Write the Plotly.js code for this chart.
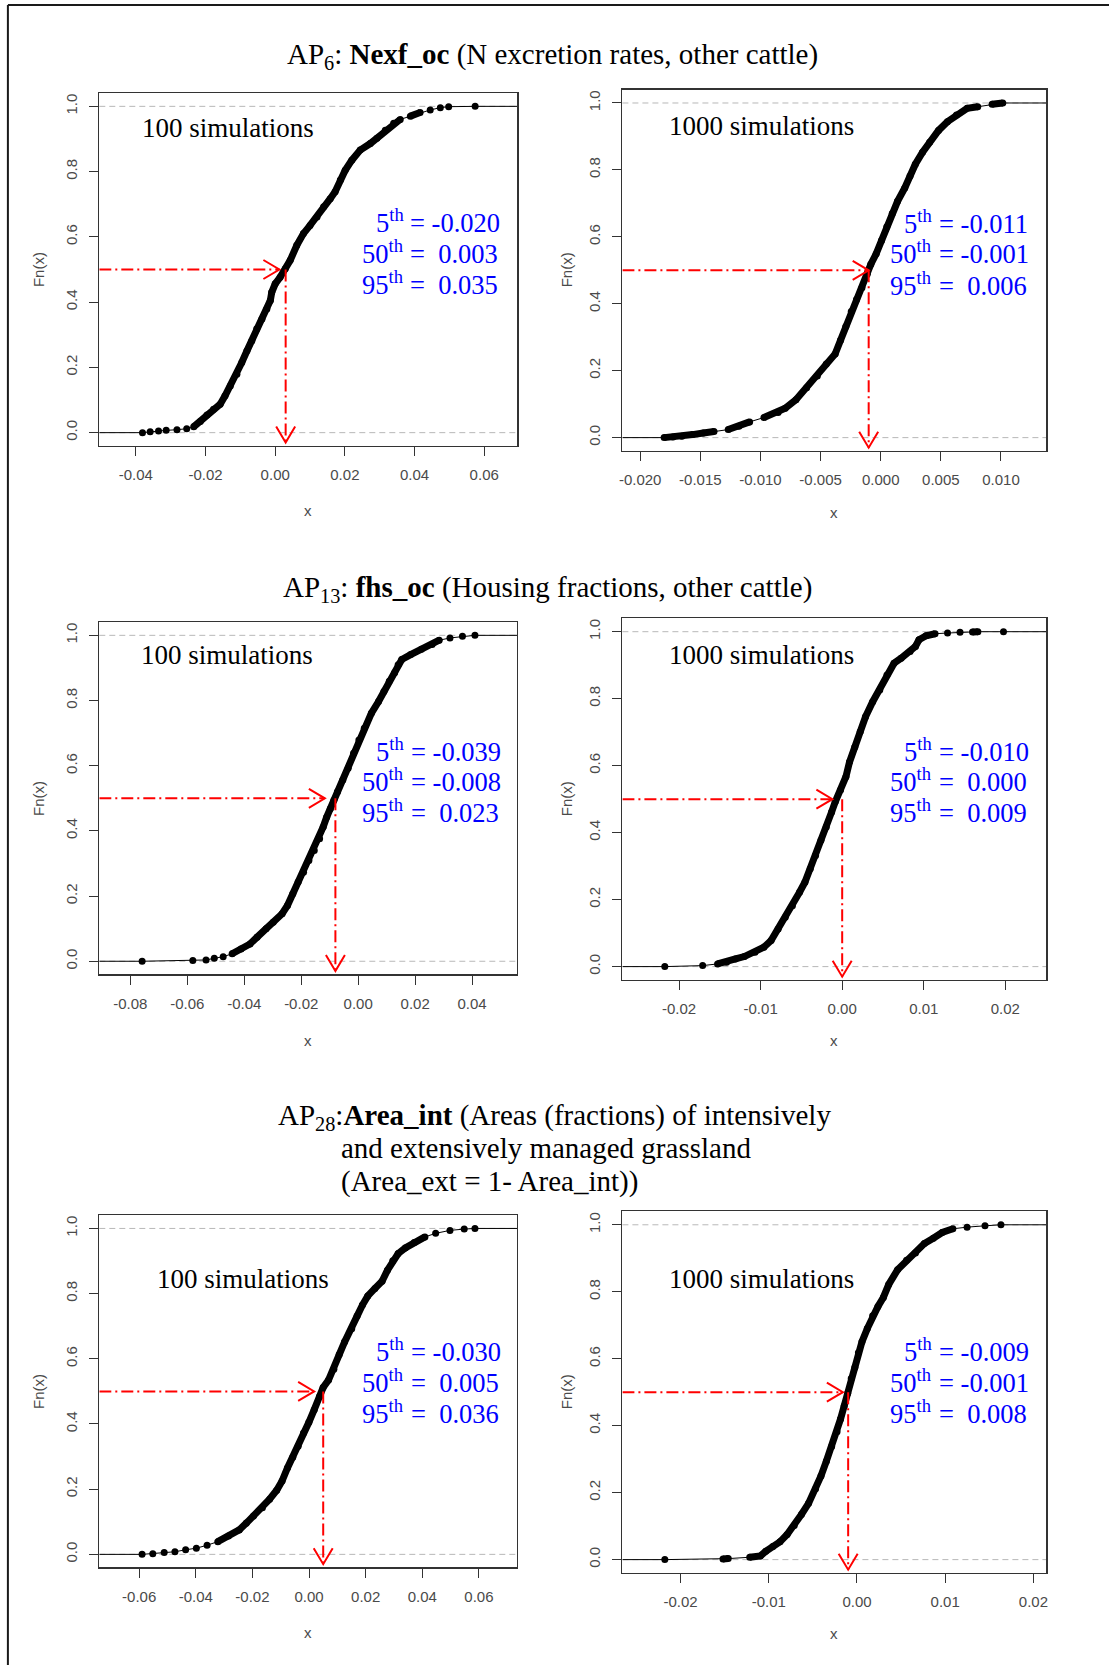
<!DOCTYPE html>
<html><head><meta charset="utf-8">
<script src="https://cdn.plot.ly/plotly-3.0.1.min.js"></script>
<style>html,body{margin:0;padding:0;background:#fff}</style>
</head><body><div id="chart" style="width:1109px;height:1665px"></div>
<script>
// ---------- data ----------
const groupTitles = [
  ["AP<sub>6</sub>: <b>Nexf_oc</b> (N excretion rates, other cattle)"],
  ["AP<sub>13</sub>: <b>fhs_oc</b> (Housing fractions, other cattle)"],
  ["AP<sub>28</sub>:<b>Area_int</b> (Areas (fractions) of intensively", "and extensively managed grassland", "(Area_ext = 1- Area_int))"]
];
const simCounts = [100, 1000, 100, 1000, 100, 1000];
const simLabels = ["100 simulations","1000 simulations","100 simulations","1000 simulations","100 simulations","1000 simulations"];
const pct5  = [-0.020, -0.011, -0.039, -0.010, -0.030, -0.009];
const pct50 = [ 0.003, -0.001, -0.008,  0.000,  0.005, -0.001];
const pct95 = [ 0.035,  0.006,  0.023,  0.009,  0.036,  0.008];
const arrowTipX = [0.0012, -0.0010, -0.0117, -0.0012, 0.0018, -0.0016];

const p1_x = [-0.0381,-0.0359,-0.0335,-0.0313,-0.0282,-0.0254,-0.0234,-0.0215,-0.0196,-0.0177,-0.0158,-0.0144,-0.0129,-0.0110,-0.0096,-0.0081,-0.0067,-0.0053,-0.0038,-0.0024,-0.0014,-0.0010,0.0000,0.0014,0.0029,0.0043,0.0062,0.0081,0.0100,0.0120,0.0139,0.0158,0.0172,0.0187,0.0201,0.0220,0.0244,0.0273,0.0292,0.0316,0.0340,0.0359,0.0388,0.0416,0.0445,0.0474,0.0498,0.0574];
const p1_F = [0.000,0.003,0.005,0.007,0.009,0.012,0.018,0.034,0.054,0.072,0.087,0.113,0.143,0.179,0.215,0.251,0.282,0.318,0.348,0.379,0.405,0.430,0.456,0.476,0.502,0.528,0.574,0.610,0.635,0.661,0.692,0.717,0.738,0.774,0.804,0.835,0.866,0.886,0.902,0.927,0.948,0.960,0.970,0.981,0.989,0.996,0.999,1.000];

const p2_x = [-0.01801,-0.01727,-0.01653,-0.01564,-0.01475,-0.01386,-0.01268,-0.01179,-0.01090,-0.00971,-0.00853,-0.00794,-0.00705,-0.00616,-0.00527,-0.00453,-0.00379,-0.00334,-0.00290,-0.00245,-0.00201,-0.00156,-0.00112,-0.00082,-0.00038,0.00007,0.00051,0.00096,0.00140,0.00200,0.00244,0.00288,0.00348,0.00407,0.00481,0.00555,0.00630,0.00719,0.00807,0.00926,0.01015];
const p2_F = [0.000,0.002,0.004,0.009,0.014,0.018,0.024,0.034,0.047,0.060,0.075,0.088,0.113,0.149,0.184,0.220,0.250,0.291,0.332,0.377,0.413,0.448,0.488,0.518,0.549,0.589,0.630,0.670,0.706,0.746,0.782,0.817,0.853,0.883,0.918,0.944,0.964,0.984,0.989,0.996,1.000];

const p3_x = [-0.07586,-0.05806,-0.05342,-0.05053,-0.04740,-0.04426,-0.04113,-0.03799,-0.03549,-0.03235,-0.02984,-0.02671,-0.02483,-0.02295,-0.02107,-0.01918,-0.01730,-0.01542,-0.01354,-0.01229,-0.01103,-0.00978,-0.00853,-0.00727,-0.00539,-0.00351,-0.00163,0.00025,0.00213,0.00464,0.00715,0.00903,0.01091,0.01279,0.01404,0.01530,0.01843,0.02219,0.02596,0.02846,0.03223,0.03661,0.04100];
const p3_F = [0.000,0.002,0.004,0.009,0.014,0.023,0.038,0.053,0.074,0.100,0.120,0.146,0.171,0.207,0.243,0.273,0.309,0.340,0.376,0.412,0.443,0.468,0.494,0.520,0.556,0.592,0.638,0.679,0.715,0.761,0.797,0.828,0.859,0.885,0.910,0.926,0.941,0.957,0.972,0.985,0.992,0.997,1.000];

const p4_x = [-0.02175,-0.01711,-0.01528,-0.01418,-0.01309,-0.01200,-0.01069,-0.00960,-0.00872,-0.00785,-0.00698,-0.00610,-0.00523,-0.00457,-0.00391,-0.00326,-0.00260,-0.00195,-0.00129,-0.00085,-0.00020,0.00046,0.00090,0.00155,0.00221,0.00286,0.00374,0.00461,0.00549,0.00636,0.00723,0.00833,0.00898,0.00942,0.01029,0.01139,0.01292,0.01445,0.01598,0.01664,0.01978];
const p4_F = [0.000,0.003,0.008,0.013,0.023,0.030,0.043,0.058,0.078,0.112,0.147,0.182,0.222,0.252,0.292,0.332,0.377,0.417,0.462,0.492,0.527,0.567,0.611,0.656,0.701,0.746,0.791,0.826,0.871,0.906,0.921,0.941,0.956,0.976,0.988,0.994,0.996,0.998,0.999,1.000,1.000];

const p5_x = [-0.05899,-0.05520,-0.05117,-0.04738,-0.04360,-0.03981,-0.03602,-0.03224,-0.02845,-0.02467,-0.02214,-0.01962,-0.01647,-0.01394,-0.01142,-0.00953,-0.00763,-0.00574,-0.00385,-0.00196,-0.00006,0.00183,0.00372,0.00498,0.00688,0.00877,0.01066,0.01256,0.01508,0.01697,0.01886,0.02076,0.02328,0.02580,0.02770,0.02959,0.03148,0.03400,0.03716,0.04094,0.04473,0.04978,0.05482,0.05861];
const p5_F = [0.000,0.002,0.006,0.008,0.014,0.019,0.028,0.039,0.056,0.075,0.096,0.118,0.143,0.169,0.197,0.225,0.265,0.298,0.332,0.372,0.405,0.444,0.484,0.512,0.535,0.568,0.613,0.652,0.692,0.731,0.765,0.793,0.816,0.838,0.872,0.901,0.923,0.940,0.957,0.974,0.985,0.994,0.998,1.000];

const p6_x = [-0.02178,-0.01519,-0.01459,-0.01216,-0.01095,-0.01034,-0.00954,-0.00873,-0.00792,-0.00711,-0.00630,-0.00549,-0.00469,-0.00408,-0.00347,-0.00287,-0.00226,-0.00186,-0.00145,-0.00105,-0.00065,-0.00024,0.00016,0.00057,0.00117,0.00178,0.00238,0.00299,0.00360,0.00461,0.00562,0.00663,0.00764,0.00865,0.00966,0.01087,0.01248,0.01451,0.01632];
const p6_F = [0.000,0.002,0.003,0.007,0.011,0.025,0.039,0.053,0.075,0.102,0.135,0.168,0.212,0.250,0.294,0.338,0.382,0.420,0.459,0.497,0.541,0.574,0.618,0.651,0.690,0.728,0.756,0.783,0.822,0.866,0.894,0.916,0.944,0.960,0.977,0.988,0.993,0.997,1.000];

const xTickVals = [
  [-0.04,-0.02,0,0.02,0.04,0.06],
  [-0.020,-0.015,-0.010,-0.005,0,0.005,0.010],
  [-0.08,-0.06,-0.04,-0.02,0,0.02,0.04],
  [-0.02,-0.01,0,0.01,0.02],
  [-0.06,-0.04,-0.02,0,0.02,0.04,0.06],
  [-0.02,-0.01,0,0.01,0.02]
];
const xTickText = [
  ["-0.04","-0.02","0.00","0.02","0.04","0.06"],
  ["-0.020","-0.015","-0.010","-0.005","0.000","0.005","0.010"],
  ["-0.08","-0.06","-0.04","-0.02","0.00","0.02","0.04"],
  ["-0.02","-0.01","0.00","0.01","0.02"],
  ["-0.06","-0.04","-0.02","0.00","0.02","0.04","0.06"],
  ["-0.02","-0.01","0.00","0.01","0.02"]
];
const yTickVals = [0, 0.2, 0.4, 0.6, 0.8, 1.0];
const yTickText = ["0.0","0.2","0.4","0.6","0.8","1.0"];

const seriesX = [p1_x, p2_x, p3_x, p4_x, p5_x, p6_x];
const seriesF = [p1_F, p2_F, p3_F, p4_F, p5_F, p6_F];

// ---------- layout (pixel geometry of the page) ----------
const W = 1109, H = 1665;
const panels = [
  {L:99.3,  R:517.3,  T:93.3,   B:445.7,  xr:[-0.0505,0.0695],   simX:141.7, simY:136.7, eqX:410.4, base:[232.3,263.3,294.3],   fnX:38.6, xlabY:510.7},
  {L:622.4, R:1046.3, T:89.6,   B:451.0,  xr:[-0.02148,0.01377], simX:669.4, simY:135.2, eqX:938.6, base:[233.3,263.7,294.8],   fnX:566,  xlabY:512.2},
  {L:99.3,  R:517.1,  T:622.3,  B:974.3,  xr:[-0.0909,0.0558],   simX:141.0, simY:664,   eqX:410.7, base:[761,791.7,822.3],     fnX:38.6, xlabY:1040},
  {L:622.4, R:1046.3, T:618.3,  B:980.0,  xr:[-0.02695,0.02503], simX:669.4, simY:664,   eqX:938.6, base:[761,791.7,822.3],     fnX:566,  xlabY:1040},
  {L:99.3,  R:517.1,  T:1215.4, B:1567.4, xr:[-0.0741,0.0735],   simX:157.1, simY:1288,  eqX:410.7, base:[1361.4,1392.5,1423.7], fnX:38.6, xlabY:1632},
  {L:622.4, R:1046.3, T:1211.4, B:1573.0, xr:[-0.02659,0.02146], simX:669.4, simY:1288,  eqX:938.6, base:[1361.4,1392.5,1423.7], fnX:566,  xlabY:1633.8}
];
const YR = [-0.04, 1.04];
const V_TIP = -0.03;

const SERIF = "Liberation Serif, Times New Roman, serif";
const SANS = "Liberation Sans, Arial, sans-serif";
const AXC = "#4a4a4a";
const RED = "#ff0000";
const BLUE = "#0000ff";
const DASHDOT = "12px,4px,2px,4px";

const px = v => v / W;
const py = v => 1 - v / H;

const layout = {
  width: W, height: H,
  margin: {l:0, r:0, t:0, b:0},
  paper_bgcolor: "#fff", plot_bgcolor: "#fff",
  showlegend: false,
  annotations: [], shapes: []
};
const traces = [];

function ann(text, x, y, o) {
  return Object.assign({xref:"paper", yref:"paper", x:px(x), y:py(y), text:text,
    showarrow:false, borderpad:0, borderwidth:0}, o);
}

// the thick band follows the dense stretches; sparse flat tails show as separate dots on a thin line
function densePath(xs, fs, p, gapPx) {
  const sx = (p.R - p.L) / (p.xr[1] - p.xr[0]);
  const sy = (p.B - p.T) / (YR[1] - YR[0]);
  const ox = [], oy = [];
  for (let j = 0; j < xs.length; j++) {
    ox.push(xs[j]); oy.push(fs[j]);
    if (j < xs.length - 1) {
      const dx = Math.abs(xs[j+1] - xs[j]) * sx, dy = Math.abs(fs[j+1] - fs[j]) * sy;
      if (dy < 0.35 * dx && dx > gapPx) { ox.push(null); oy.push(null); }
    }
  }
  return [ox, oy];
}

panels.forEach((p, i) => {
  const n = i === 0 ? "" : String(i + 1);
  const xa = "x" + n, ya = "y" + n;
  layout["xaxis" + n] = {
    domain:[px(p.L), px(p.R)], range:p.xr, anchor:ya,
    showline:true, linecolor:"#333", linewidth:1.2, mirror:true,
    showgrid:false, zeroline:false, ticks:"outside", ticklen:9, tickcolor:"#333", tickwidth:1,
    tickmode:"array", tickvals:xTickVals[i], ticktext:xTickText[i],
    tickfont:{family:SANS, size:15, color:AXC}, ticklabelstandoff:6, fixedrange:true
  };
  layout["yaxis" + n] = {
    domain:[py(p.B), py(p.T)], range:YR, anchor:xa,
    showline:true, linecolor:"#333", linewidth:1.2, mirror:true,
    showgrid:false, zeroline:false, ticks:"outside", ticklen:9, tickcolor:"#333", tickwidth:1,
    tickmode:"array", tickvals:yTickVals, ticktext:yTickText, tickangle:-90,
    tickfont:{family:SANS, size:15, color:AXC}, ticklabelstandoff:6, fixedrange:true
  };

  const xs = seriesX[i], fs = seriesF[i];
  // ecdf extensions (thin black) and gray 0/1 reference lines
  layout.shapes.push({type:"line", xref:xa, yref:ya, x0:p.xr[0], x1:xs[0], y0:0, y1:0, line:{color:"#000", width:1}, layer:"below"});
  layout.shapes.push({type:"line", xref:xa, yref:ya, x0:xs[xs.length-1], x1:p.xr[1], y0:1, y1:1, line:{color:"#000", width:1}, layer:"below"});
  [0, 1].forEach(h => layout.shapes.push({type:"line", xref:xa + " domain", yref:ya, x0:0, x1:1, y0:h, y1:h,
    line:{color:"#b8b8b8", width:1, dash:"6px,4px"}, layer:"below"}));

  traces.push({type:"scatter", mode:"lines+markers", x:xs, y:fs, xaxis:xa, yaxis:ya,
    line:{color:"#000", width:1}, marker:{color:"#000", size:7}, hoverinfo:"skip"});
  const sp = densePath(xs, fs, p, simCounts[i] >= 1000 ? 11 : 6);
  traces.push({type:"scatter", mode:"lines", x:sp[0], y:sp[1], xaxis:xa, yaxis:ya, connectgaps:false,
    line:{color:"#000", width:7}, hoverinfo:"skip"});

  // red dash-dot arrows to the median
  layout.shapes.push({type:"line", xref:xa, yref:ya, x0:p.xr[0], x1:arrowTipX[i], y0:0.5, y1:0.5,
    line:{color:RED, width:2, dash:DASHDOT}, layer:"above"});
  layout.shapes.push({type:"path", xref:xa, yref:ya, xsizemode:"pixel", ysizemode:"pixel",
    xanchor:arrowTipX[i], yanchor:0.5, path:"M -16 9.5 L 0 0 L -16 -9.5",
    line:{color:RED, width:2}, layer:"above"});
  layout.shapes.push({type:"line", xref:xa, yref:ya, x0:pct50[i], x1:pct50[i], y0:0.5, y1:V_TIP,
    line:{color:RED, width:2, dash:DASHDOT}, layer:"above"});
  layout.shapes.push({type:"path", xref:xa, yref:ya, xsizemode:"pixel", ysizemode:"pixel",
    xanchor:pct50[i], yanchor:V_TIP, path:"M -9.5 16 L 0 0 L 9.5 16",
    line:{color:RED, width:2}, layer:"above"});

  // axis titles
  layout.annotations.push(ann("Fn(x)", p.fnX, (p.T + p.B) / 2, {xanchor:"center", yanchor:"middle", textangle:-90,
    font:{family:SANS, size:15, color:AXC}}));
  layout.annotations.push(ann("x", (p.L + p.R) / 2, p.xlabY, {xanchor:"center", yanchor:"middle",
    font:{family:SANS, size:15, color:AXC}}));

  // simulations label
  layout.annotations.push(ann(simLabels[i], p.simX, p.simY + 0.216 * 27, {xanchor:"left", yanchor:"bottom",
    font:{family:SERIF, size:27, color:"#000"}}));

  // percentile text
  const fmt = v => (v < 0 ? "-" : "\u00A0") + Math.abs(v).toFixed(3);
  const rows = [["5", pct5[i]], ["50", pct50[i]], ["95", pct95[i]]];
  rows.forEach((r, k) => {
    const yb = p.base[k] + 0.216 * 26.5;
    layout.annotations.push(ann(r[0] + "<sup>th</sup>", p.eqX - 6.6, yb, {xanchor:"right", yanchor:"bottom",
      font:{family:SERIF, size:26.5, color:BLUE}}));
    layout.annotations.push(ann("=\u00A0" + fmt(r[1]), p.eqX, yb, {xanchor:"left", yanchor:"bottom",
      font:{family:SERIF, size:26.5, color:BLUE}}));
  });
});

// group titles
const TS = 29;
layout.annotations.push(ann(groupTitles[0][0], 552.5, 64.2 - 0.891 * TS, {xanchor:"center", yanchor:"top", font:{family:SERIF, size:TS, color:"#000"}}));
layout.annotations.push(ann(groupTitles[1][0], 547, 597.3 - 0.891 * TS, {xanchor:"center", yanchor:"top", font:{family:SERIF, size:TS, color:"#000"}}));
layout.annotations.push(ann(groupTitles[2][0], 278, 1124.8 - 0.891 * TS, {xanchor:"left", yanchor:"top", font:{family:SERIF, size:TS, color:"#000"}}));
layout.annotations.push(ann(groupTitles[2][1], 341, 1157.8 - 0.891 * TS, {xanchor:"left", yanchor:"top", font:{family:SERIF, size:TS, color:"#000"}}));
layout.annotations.push(ann(groupTitles[2][2], 341, 1190.8 - 0.891 * TS, {xanchor:"left", yanchor:"top", font:{family:SERIF, size:TS, color:"#000"}}));

// outer frame (top and left edges visible)
layout.shapes.push({type:"line", xref:"paper", yref:"paper", x0:px(7.9), x1:px(1115), y0:py(5), y1:py(5), line:{color:"#1a1a1a", width:2}});
layout.shapes.push({type:"line", xref:"paper", yref:"paper", x0:px(7.9), x1:px(7.9), y0:py(5), y1:py(1670), line:{color:"#1a1a1a", width:2}});

Plotly.newPlot("chart", traces, layout, {displayModeBar:false, staticPlot:true});
</script>
</body></html>
